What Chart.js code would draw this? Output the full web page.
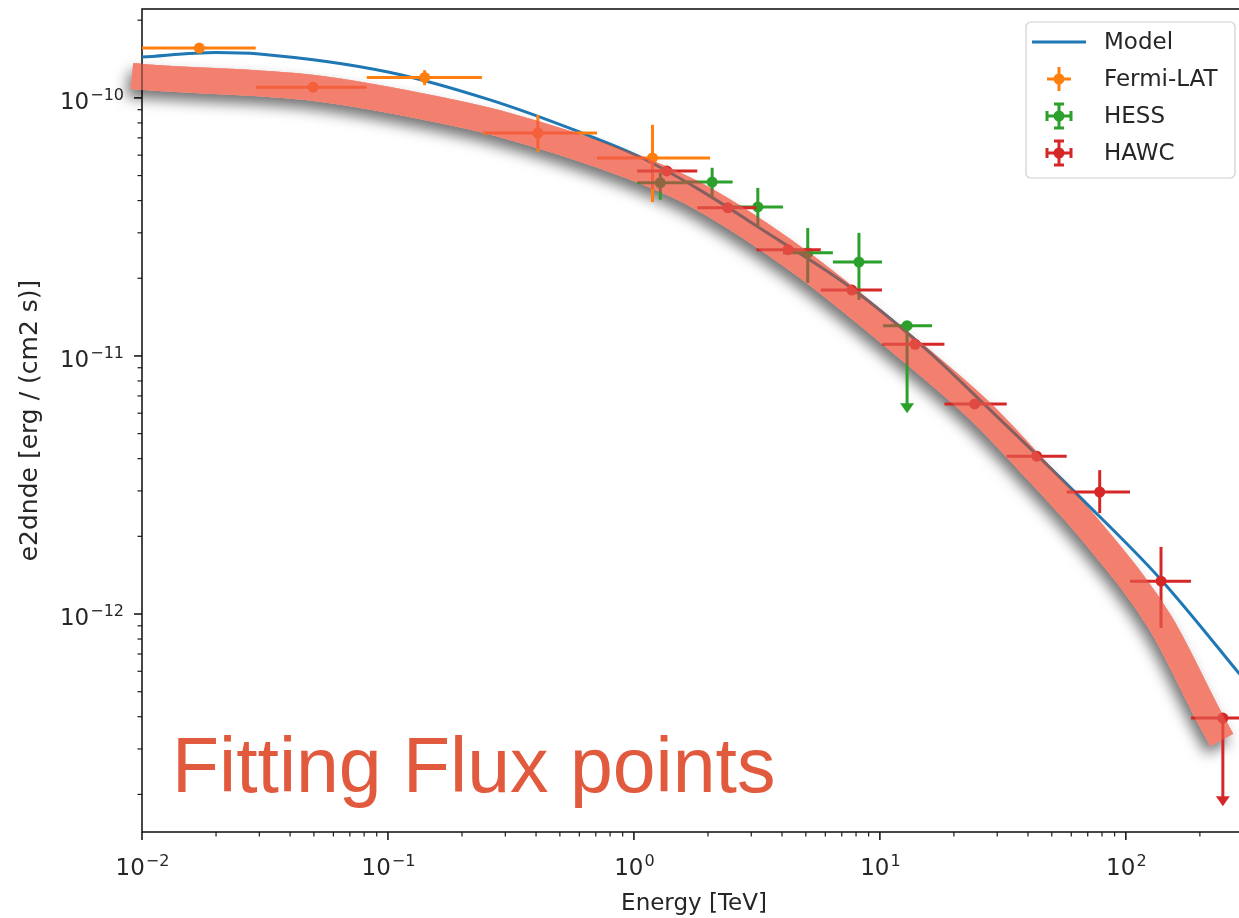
<!DOCTYPE html>
<html>
<head>
<meta charset="utf-8">
<script src="https://cdn.jsdelivr.net/npm/chart.js@4.4.0/dist/chart.umd.min.js"></script>
<style>
  html, body { margin: 0; padding: 0; background: #fff; overflow: hidden; }
  #wrap { width: 1256px; height: 918px; }
</style>
</head>
<body>
<div id="wrap"><canvas id="sedChart" width="1256" height="918"></canvas></div>
<script>
// model curve (TeV, erg / cm2 s)
const modelEnergy = [0.01, 0.02, 0.03, 0.1, 0.26, 0.6, 1.06, 1.85, 3.48, 7.55, 15.8, 25.5, 66.8, 137, 288, 400];
const modelFlux = [1.44e-10, 1.50e-10, 1.48e-10, 1.26e-10, 9.82e-11, 7.38e-11, 5.90e-11, 4.40e-11, 3.00e-11, 1.85e-11, 1.04e-11, 6.75e-12, 2.77e-12, 1.38e-12, 5.90e-13, 4.0e-13];

// the hand-drawn band over the fit
const bandEnergy = [0.0091, 0.01, 0.0496, 0.135, 0.277, 0.99, 1.855, 4.73, 12.06, 25.5, 39.6, 73.4, 137.5, 219.5, 245.6];
const bandFlux = [1.217e-10, 1.206e-10, 1.093e-10, 9.31e-11, 8.00e-11, 5.40e-11, 4.13e-11, 2.313e-11, 1.133e-11, 6.12e-12, 3.95e-12, 2.06e-12, 9.31e-13, 3.95e-13, 3.25e-13];

// Fermi-LAT
const fermiE = [0.0171, 0.0496, 0.141, 0.407, 1.19];
const fermiF = [1.56e-10, 1.10e-10, 1.20e-10, 7.31e-11, 5.85e-11];
const fermiElo = [0.01, 0.029, 0.082, 0.243, 0.708];
const fermiEhi = [0.029, 0.082, 0.241, 0.708, 2.04];
const fermiFlo = [1.53e-10, 1.07e-10, 1.12e-10, 6.18e-11, 3.95e-11];
const fermiFhi = [1.60e-10, 1.13e-10, 1.28e-10, 8.59e-11, 7.86e-11];
const fermiUL = [false, false, false, false, false];

// HESS
const hessE = [1.28, 2.08, 3.19, 5.09, 8.22, 12.9];
const hessF = [4.69e-11, 4.72e-11, 3.78e-11, 2.51e-11, 2.31e-11, 1.31e-11];
const hessElo = [1.03, 1.62, 2.52, 4.04, 6.44, 10.3];
const hessEhi = [1.62, 2.52, 4.04, 6.44, 10.2, 16.3];
const hessFlo = [4.03e-11, 4.10e-11, 3.16e-11, 1.92e-11, 1.65e-11, 6.0e-12];
const hessFhi = [5.12e-11, 5.36e-11, 4.48e-11, 3.13e-11, 3.0e-11, 1.31e-11];
const hessUL = [false, false, false, false, false, true];

// HAWC
const hawcE = [1.36, 2.41, 4.23, 7.69, 13.9, 24.3, 43.4, 78.3, 139, 248];
const hawcF = [5.21e-11, 3.75e-11, 2.58e-11, 1.80e-11, 1.11e-11, 6.52e-12, 4.09e-12, 2.97e-12, 1.34e-12, 3.95e-13];
const hawcElo = [1.03, 1.81, 3.15, 5.75, 10.2, 18.3, 32.8, 57.5, 104, 184];
const hawcEhi = [1.81, 3.15, 5.75, 10.2, 18.3, 32.8, 57.5, 104, 184, 331];
const hawcFlo = [5.05e-11, 3.65e-11, 2.50e-11, 1.75e-11, 1.08e-11, 6.35e-12, 3.95e-12, 2.46e-12, 8.83e-13, 1.8e-13];
const hawcFhi = [5.37e-11, 3.85e-11, 2.66e-11, 1.85e-11, 1.14e-11, 6.70e-12, 4.25e-12, 3.61e-12, 1.82e-12, 3.95e-13];
const hawcUL = [false, false, false, false, false, false, false, false, false, true];

const legendNames = ["Model", "Fermi-LAT", "HESS", "HAWC"];
const annotation = "Fitting Flux points";

const cModel = "#1f77b4", cFermi = "#ff7f0e", cHess = "#2ca02c", cHawc = "#d62728";
const cBand = "#f3806f", cBandHalf = "rgba(243,128,111,0.5)";
const txt = "#262626";
const FONT = "DejaVu Sans";

function toXY(xs, ys) {
  return xs.map((x, i) => ({ x: x, y: ys[i] }));
}

const supMap = { "-": "\u2212" };
function expText(e) {
  return String(e).split("").map(c => supMap[c] || c).join("");
}

// decade ticks with minors
function logTicks(scale) {
  const lo = Math.floor(Math.log10(scale.min)), hi = Math.ceil(Math.log10(scale.max));
  const ticks = [];
  for (let e = lo; e <= hi; e++) {
    for (let m = 1; m <= 9; m++) {
      const v = m * Math.pow(10, e);
      if (v >= scale.min * 0.999 && v <= scale.max * 1.001) ticks.push({ value: v, major: m === 1, exp: e });
    }
  }
  scale.ticks = ticks;
}

function errDataset(label, color, xs, ys, elo, ehi, flo, fhi, ul, order) {
  return {
    label: label,
    data: toXY(xs, ys),
    showLine: false,
    pointRadius: 5.5,
    pointBackgroundColor: color,
    pointBorderWidth: 0,
    borderColor: color,
    order: order,
    errBars: { elo: elo, ehi: ehi, flo: flo, fhi: fhi, ul: ul }
  };
}

// error bars, drawn just under each dataset's markers
const errorBarPlugin = {
  id: "errorBars",
  beforeDatasetDraw(chart, args) {
    const ds = chart.data.datasets[args.index];
    if (!ds.errBars) return;
    const { ctx, chartArea: a } = chart;
    const xs = chart.scales.x, ys = chart.scales.y;
    const eb = ds.errBars;
    ctx.save();
    ctx.beginPath();
    ctx.rect(a.left, a.top, a.right - a.left, a.bottom - a.top);
    ctx.clip();
    ctx.strokeStyle = ds.borderColor;
    ctx.fillStyle = ds.borderColor;
    ctx.lineWidth = 3;
    ds.data.forEach((p, i) => {
      const px = xs.getPixelForValue(p.x), py = ys.getPixelForValue(p.y);
      ctx.beginPath();
      ctx.moveTo(xs.getPixelForValue(eb.elo[i]), py);
      ctx.lineTo(xs.getPixelForValue(eb.ehi[i]), py);
      ctx.stroke();
      if (eb.ul[i]) {
        const tip = ys.getPixelForValue(eb.flo[i]);
        ctx.beginPath();
        ctx.moveTo(px, py);
        ctx.lineTo(px, tip - 8);
        ctx.stroke();
        ctx.beginPath();
        ctx.moveTo(px - 7, tip - 10);
        ctx.lineTo(px + 7, tip - 10);
        ctx.lineTo(px, tip);
        ctx.closePath();
        ctx.fill();
      } else {
        ctx.beginPath();
        ctx.moveTo(px, ys.getPixelForValue(eb.fhi[i]));
        ctx.lineTo(px, ys.getPixelForValue(eb.flo[i]));
        ctx.stroke();
      }
    });
    ctx.restore();
  }
};

// the pasted band: a soft shadow underneath, then the band multiplied over the plot
const bandPlugin = {
  id: "bandBlend",
  beforeDatasetsDraw(chart) {
    const idx = chart.data.datasets.findIndex(d => d.isBand);
    const line = chart.getDatasetMeta(idx).dataset;
    const off = document.createElement("canvas");
    off.width = chart.width;
    off.height = chart.height;
    const o = off.getContext("2d");
    o.shadowColor = "rgba(0,0,0,0.55)";
    o.shadowBlur = 14;
    o.shadowOffsetX = -4;
    o.shadowOffsetY = 8;
    line.draw(o, chart.chartArea);
    o.shadowColor = "rgba(0,0,0,0)";
    o.globalCompositeOperation = "destination-out";
    line.draw(o, chart.chartArea);
    chart.ctx.drawImage(off, 0, 0);
  },
  beforeDatasetDraw(chart, args) {
    if (!chart.data.datasets[args.index].isBand) return;
    chart.ctx.save();
    chart.ctx.globalCompositeOperation = "multiply";
  },
  afterDatasetDraw(chart, args) {
    if (!chart.data.datasets[args.index].isBand) return;
    chart.ctx.restore();
  }
};

function drawPow(ctx, e, x, baseY, align) {
  const base = "10", sup = expText(e);
  ctx.font = "23px '" + FONT + "'";
  const w1 = ctx.measureText(base).width;
  ctx.font = "16px '" + FONT + "'";
  const w2 = ctx.measureText(sup).width;
  const start = align === "center" ? x - (w1 + w2) / 2 : x - (w1 + w2);
  ctx.font = "23px '" + FONT + "'";
  ctx.fillText(base, start, baseY);
  ctx.font = "16px '" + FONT + "'";
  ctx.fillText(sup, start + w1 + 1, baseY - 9);
}

// frame, tick marks and tick labels, matplotlib style
const framePlugin = {
  id: "frame",
  beforeDatasetsDraw(chart) {
    const { ctx, chartArea: a } = chart;
    const xs = chart.scales.x, ys = chart.scales.y;
    ctx.save();
    ctx.strokeStyle = "#1a1a1a";
    ctx.fillStyle = txt;
    ctx.textAlign = "left";
    ctx.textBaseline = "alphabetic";
    ctx.lineWidth = 1.6;
    ctx.strokeRect(a.left, a.top, a.right - a.left, a.bottom - a.top);
    xs.ticks.forEach(t => {
      const px = xs.getPixelForValue(t.value);
      if (px < a.left - 0.5 || px > a.right + 0.5) return;
      ctx.lineWidth = t.major ? 1.6 : 1.2;
      ctx.beginPath();
      ctx.moveTo(px, a.bottom);
      ctx.lineTo(px, a.bottom + (t.major ? 8 : 4.5));
      ctx.stroke();
      if (t.major) drawPow(ctx, t.exp, px, a.bottom + 43, "center");
    });
    ys.ticks.forEach(t => {
      const py = ys.getPixelForValue(t.value);
      if (py < a.top - 0.5 || py > a.bottom + 0.5) return;
      ctx.lineWidth = t.major ? 1.6 : 1.2;
      ctx.beginPath();
      ctx.moveTo(a.left, py);
      ctx.lineTo(a.left - (t.major ? 8 : 4.5), py);
      ctx.stroke();
      if (t.major) drawPow(ctx, t.exp, a.left - 19, py + 11, "right");
    });
    ctx.restore();
  }
};

function drawCross(ctx, x, y, color, caps) {
  ctx.strokeStyle = color;
  ctx.fillStyle = color;
  ctx.lineWidth = 3;
  ctx.beginPath();
  ctx.moveTo(x - 12, y); ctx.lineTo(x + 12, y);
  ctx.moveTo(x, y - 12); ctx.lineTo(x, y + 12);
  if (caps) {
    ctx.moveTo(x - 12, y - 5); ctx.lineTo(x - 12, y + 5);
    ctx.moveTo(x + 12, y - 5); ctx.lineTo(x + 12, y + 5);
    ctx.moveTo(x - 5, y - 12); ctx.lineTo(x + 5, y - 12);
    ctx.moveTo(x - 5, y + 12); ctx.lineTo(x + 5, y + 12);
  }
  ctx.stroke();
  ctx.beginPath();
  ctx.arc(x, y, 5.5, 0, Math.PI * 2);
  ctx.fill();
}

// legend box and the slide annotation
const overlayPlugin = {
  id: "overlay",
  afterDraw(chart) {
    const ctx = chart.ctx;
    ctx.save();
    ctx.beginPath();
    ctx.roundRect(1026, 22, 209, 156, 5);
    ctx.fillStyle = "rgba(255,255,255,0.85)";
    ctx.fill();
    ctx.strokeStyle = "#d0d0d0";
    ctx.lineWidth = 1.2;
    ctx.stroke();

    const rows = [42, 79, 116, 153];
    ctx.strokeStyle = cModel;
    ctx.lineWidth = 3;
    ctx.beginPath();
    ctx.moveTo(1032, rows[0]);
    ctx.lineTo(1086, rows[0]);
    ctx.stroke();
    drawCross(ctx, 1059, rows[1], cFermi, false);
    drawCross(ctx, 1059, rows[2], cHess, true);
    drawCross(ctx, 1059, rows[3], cHawc, true);

    ctx.fillStyle = txt;
    ctx.font = "23px '" + FONT + "'";
    ctx.textBaseline = "middle";
    ctx.textAlign = "left";
    legendNames.forEach((name, i) => ctx.fillText(name, 1104, rows[i] + 1));

    ctx.fillStyle = "#e15a3e";
    ctx.font = "77px 'Liberation Sans'";
    ctx.textBaseline = "alphabetic";
    ctx.fillText(annotation, 172, 792);
    ctx.restore();
  }
};

new Chart(document.getElementById("sedChart"), {
  type: "line",
  data: {
    datasets: [
      {
        label: "Model",
        data: toXY(modelEnergy, modelFlux),
        borderColor: cModel,
        borderWidth: 3,
        pointRadius: 0,
        cubicInterpolationMode: "monotone",
        order: 5
      },
      errDataset("Fermi-LAT", cFermi, fermiE, fermiF, fermiElo, fermiEhi, fermiFlo, fermiFhi, fermiUL, 4),
      errDataset("HESS", cHess, hessE, hessF, hessElo, hessEhi, hessFlo, hessFhi, hessUL, 3),
      errDataset("HAWC", cHawc, hawcE, hawcF, hawcElo, hawcEhi, hawcFlo, hawcFhi, hawcUL, 2),
      {
        label: "band",
        isBand: true,
        data: toXY(bandEnergy, bandFlux),
        borderColor: cBand,
        borderWidth: 26,
        borderCapStyle: "butt",
        borderJoinStyle: "round",
        pointRadius: 0,
        cubicInterpolationMode: "monotone",
        clip: false,
        order: 1
      },
      {
        label: "band tint",
        data: toXY(bandEnergy, bandFlux),
        borderColor: cBandHalf,
        borderWidth: 26,
        borderCapStyle: "butt",
        borderJoinStyle: "round",
        pointRadius: 0,
        cubicInterpolationMode: "monotone",
        clip: false,
        order: 0
      }
    ]
  },
  options: {
    responsive: false,
    animation: false,
    events: [],
    layout: { padding: { left: 0, top: 9, right: 10, bottom: 0 } },
    plugins: {
      legend: { display: false },
      tooltip: { enabled: false }
    },
    scales: {
      x: {
        type: "logarithmic",
        min: 0.01,
        max: 308,
        afterBuildTicks: logTicks,
        afterFit: s => { s.height = 86; s.paddingLeft = 0; s.paddingRight = 0; },
        grid: { display: false, drawTicks: false },
        border: { display: false },
        ticks: { display: false },
        title: {
          display: true,
          text: "Energy [TeV]",
          color: txt,
          font: { family: FONT, size: 23 },
          padding: { top: 0, bottom: 0 }
        }
      },
      y: {
        type: "logarithmic",
        min: 1.43e-13,
        max: 2.21e-10,
        afterBuildTicks: logTicks,
        afterFit: s => { s.width = 142; s.paddingTop = 0; s.paddingBottom = 0; },
        grid: { display: false, drawTicks: false },
        border: { display: false },
        ticks: { display: false },
        title: {
          display: true,
          text: "e2dnde [erg / (cm2 s)]",
          color: txt,
          font: { family: FONT, size: 25 },
          padding: { top: 15, bottom: 0 }
        }
      }
    }
  },
  plugins: [framePlugin, errorBarPlugin, bandPlugin, overlayPlugin]
});
</script>
</body>
</html>
